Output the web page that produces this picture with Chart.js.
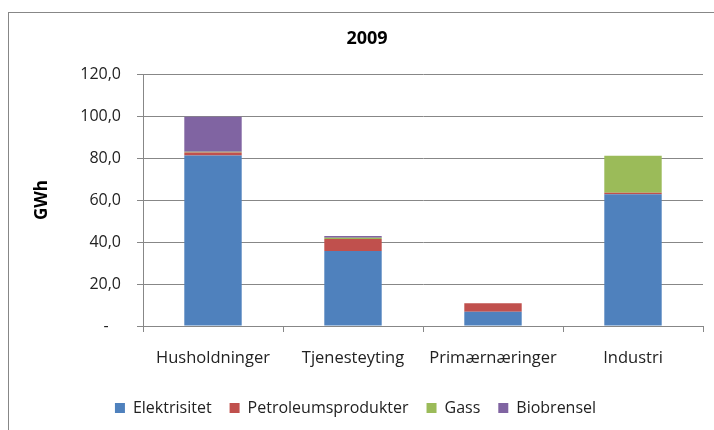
<!DOCTYPE html>
<html>
<head>
<meta charset="utf-8">
<script src="https://cdn.jsdelivr.net/npm/chart.js@4"></script>
<style>
  html, body { margin: 0; padding: 0; background: #fff; }
  #wrap { width: 714px; height: 430px; }
</style>
</head>
<body>
<div id="wrap"><canvas id="chart"></canvas></div>
<script>
// --- data (GWh, 2009) ---
const sectors = ['Husholdninger', 'Tjenesteyting', 'Primærnæringer', 'Industri'];
const elektrisitet = [81.2, 35.7, 6.8, 62.7];
const petroleum = [1.4, 5.7, 4.0, 0.7];
const gass = [0.4, 0.6, 0.0, 17.7];
const biobrensel = [16.7, 0.8, 0.0, 0.0];
const chartTitle = '2009';
const axisTitle = 'GWh';

const grey = '#878787';
const font = 'Open Sans';

// outer frame + title, drawn like the old office chart
const framePlugin = {
  id: 'frame',
  beforeDraw(chart) {
    const ctx = chart.ctx;
    ctx.save();
    ctx.fillStyle = '#fff';
    ctx.fillRect(0, 0, chart.width, chart.height);
    ctx.strokeStyle = grey;
    ctx.lineWidth = 1;
    ctx.strokeRect(8.5, 12.5, chart.width + 20, chart.height + 20);
    ctx.restore();
  },
  afterDraw(chart) {
    const ctx = chart.ctx;
    ctx.save();
    ctx.font = 'bold 18px "' + font + '"';
    ctx.fillStyle = '#000';
    ctx.textAlign = 'center';
    ctx.textBaseline = 'middle';
    ctx.fillText(chartTitle, 367, 39);
    ctx.restore();
  }
};

new Chart(document.getElementById('chart'), {
  type: 'bar',
  data: {
    labels: sectors,
    datasets: [
      { label: 'Elektrisitet', data: elektrisitet, backgroundColor: '#4F81BD' },
      { label: 'Petroleumsprodukter', data: petroleum, backgroundColor: '#C0504D' },
      { label: 'Gass', data: gass, backgroundColor: '#9BBB59' },
      { label: 'Biobrensel', data: biobrensel, backgroundColor: '#8064A2' }
    ]
  },
  options: {
    responsive: true,
    maintainAspectRatio: false,
    animation: false,
    layout: { padding: { top: 74, left: 8, right: 11, bottom: 4 } },
    datasets: { bar: { categoryPercentage: 1.0, barPercentage: 0.41 } },
    plugins: {
      title: { display: false },
      tooltip: { enabled: false },
      legend: {
        position: 'bottom',
        labels: {
          boxWidth: 10,
          boxHeight: 10,
          padding: 18,
          color: '#222',
          font: { family: font, size: 16 }
        }
      }
    },
    scales: {
      x: {
        stacked: true,
        afterFit(scale) { scale.height = 56; },
        grid: { display: true, drawOnChartArea: false, offset: true, tickLength: 6, color: grey },
        border: { color: grey },
        ticks: { color: '#222', padding: 16, font: { family: font, size: 16.5 } }
      },
      y: {
        stacked: true,
        min: 0,
        max: 120,
        afterFit(scale) { scale.width = 135; },
        grid: { color: grey, tickLength: 6 },
        border: { color: grey },
        ticks: {
          stepSize: 20,
          padding: 16,
          color: '#222',
          font: { family: font, size: 16 },
          callback: v => v === 0 ? '-   ' : v.toFixed(1).replace('.', ',')
        },
        title: {
          display: true,
          text: axisTitle,
          color: '#000',
          padding: { top: 24, bottom: 0 },
          font: { family: font, size: 17, weight: 'bold' }
        }
      }
    }
  },
  plugins: [framePlugin]
});
</script>
</body>
</html>
